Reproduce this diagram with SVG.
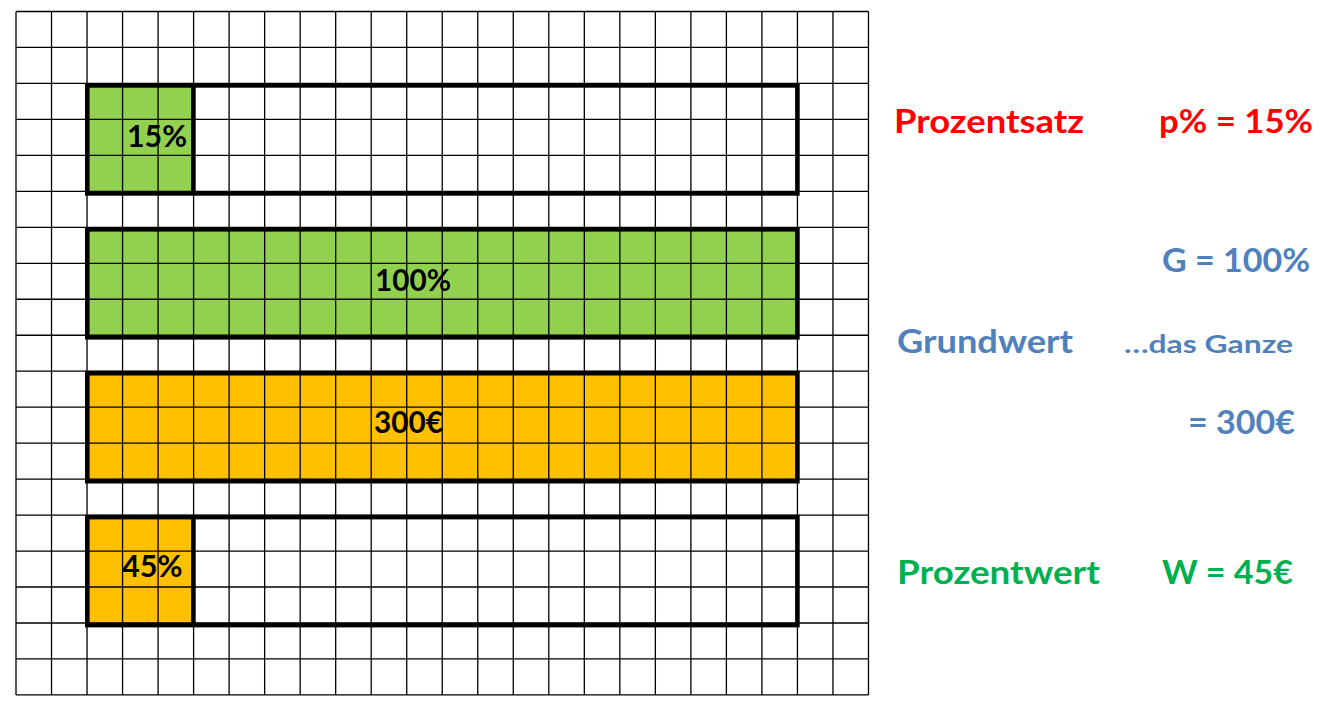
<svg xmlns="http://www.w3.org/2000/svg" width="1337" height="710" viewBox="0 0 1337 710">
<style>
.grid{stroke:#000;stroke-width:1.3;fill:none}
.thick{stroke:#000;stroke-width:4.6;fill:none}
.green{fill:#92D050}
.orange{fill:#FFC000}
text{font-family:Lato,"Open Sans","Liberation Sans",sans-serif;font-weight:700}
.in{font-size:31px;fill:#000}
.lbl{font-size:32px}
.red{fill:#FF0000}
.blue{fill:#4F81BD}
.grn{fill:#00B050}
</style>
<rect width="1337" height="710" fill="#fff"/>
<g id="fills">
<rect class="green" x="87.3" y="85.4" width="106.1" height="108"/>
<rect class="green" x="87.3" y="229.3" width="710.1" height="108"/>
<rect class="orange" x="87.3" y="373.2" width="710.1" height="108"/>
<rect class="orange" x="87.3" y="517.1" width="106.1" height="108"/>
</g>
<g id="grid">
<path class="grid" d="M16 11.5V694.9M51.52 11.5V694.9M87.04 11.5V694.9M122.56 11.5V694.9M158.08 11.5V694.9M193.6 11.5V694.9M229.12 11.5V694.9M264.64 11.5V694.9M300.16 11.5V694.9M335.68 11.5V694.9M371.2 11.5V694.9M406.72 11.5V694.9M442.24 11.5V694.9M477.76 11.5V694.9M513.28 11.5V694.9M548.8 11.5V694.9M584.32 11.5V694.9M619.84 11.5V694.9M655.36 11.5V694.9M690.88 11.5V694.9M726.4 11.5V694.9M761.92 11.5V694.9M797.44 11.5V694.9M832.96 11.5V694.9M868.48 11.5V694.9"/>
<path class="grid" d="M16 11.5H868.48M16 47.47H868.48M16 83.44H868.48M16 119.41H868.48M16 155.38H868.48M16 191.35H868.48M16 227.32H868.48M16 263.29H868.48M16 299.26H868.48M16 335.23H868.48M16 371.2H868.48M16 407.17H868.48M16 443.14H868.48M16 479.11H868.48M16 515.08H868.48M16 551.05H868.48M16 587.02H868.48M16 622.99H868.48M16 658.96H868.48M16 694.93H868.48"/>
</g>
<g id="bar-prozentsatz">
<rect class="thick" x="87.3" y="85.4" width="710.1" height="108"/>
<line class="thick" x1="193.4" y1="85.4" x2="193.4" y2="193.4"/>
<text class="in" x="127" y="147.3" textLength="60" lengthAdjust="spacingAndGlyphs">15%</text>
</g>
<g id="bar-grundwert-prozent">
<rect class="thick" x="87.3" y="229.3" width="710.1" height="108"/>
<text class="in" x="375" y="290.7" textLength="76" lengthAdjust="spacingAndGlyphs">100%</text>
</g>
<g id="bar-grundwert-euro">
<rect class="thick" x="87.3" y="373.2" width="710.1" height="108"/>
<text class="in" x="374" y="433.3" textLength="69" lengthAdjust="spacingAndGlyphs">300€</text>
</g>
<g id="bar-prozentwert">
<rect class="thick" x="87.3" y="517.1" width="710.1" height="108"/>
<line class="thick" x1="193.4" y1="517.1" x2="193.4" y2="625"/>
<text class="in" x="122" y="577.3" textLength="60.5" lengthAdjust="spacingAndGlyphs">45%</text>
</g>
<g id="labels">
<text class="lbl red" x="894" y="132.7" textLength="190" lengthAdjust="spacingAndGlyphs">Prozentsatz</text>
<text class="lbl red" x="1159" y="132.7" textLength="154" lengthAdjust="spacingAndGlyphs">p% = 15%</text>
<text class="lbl blue" x="1162" y="271.7" textLength="148" lengthAdjust="spacingAndGlyphs">G = 100%</text>
<text class="lbl blue" x="897" y="352.7" textLength="176" lengthAdjust="spacingAndGlyphs">Grundwert</text>
<text class="blue" style="font-size:25px" x="1124" y="352.7" textLength="169" lengthAdjust="spacingAndGlyphs">…das Ganze</text>
<text class="lbl blue" x="1188" y="434" textLength="107" lengthAdjust="spacingAndGlyphs">= 300€</text>
<text class="lbl grn" x="897" y="584.3" textLength="203" lengthAdjust="spacingAndGlyphs">Prozentwert</text>
<text class="lbl grn" x="1162" y="584.3" textLength="131" lengthAdjust="spacingAndGlyphs">W = 45€</text>
</g>
</svg>
